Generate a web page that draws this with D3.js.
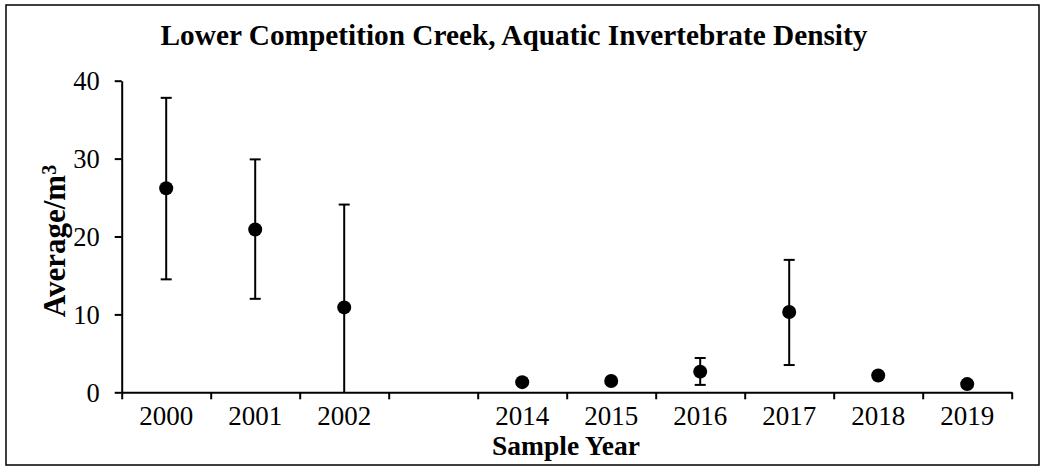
<!DOCTYPE html>
<html><head><meta charset="utf-8">
<script src="https://cdn.jsdelivr.net/npm/d3@7"></script>
<style>
html,body{margin:0;padding:0;background:#fff;}
svg text{font-family:"Liberation Serif","Times New Roman",serif;fill:#000;}
</style></head>
<body><svg id="chart" width="1046" height="468"></svg>
<script>
const categories = ["2000","2001","2002","","2014","2015","2016","2017","2018","2019"];
const means = [26.2, 20.9, 10.9, null, 1.3, 1.45, 2.65, 10.3, 2.15, 1.05];
const upper = [37.8, 29.9, 24.1, null, null, null, 4.4, 17.0, null, null];
const lower = [14.5, 12.0, 0, null, null, null, 0.95, 3.5, null, null];
const yTicks = [0, 10, 20, 30, 40];
const titleText = "Lower Competition Creek, Aquatic Invertebrate Density";
const xTitle = "Sample Year";

const svg = d3.select("#chart");
const L = 121.7, R = 1011.7, T = 80.7, B = 392.3;

svg.append("rect").attr("x",6).attr("y",5).attr("width",1033).attr("height",460)
  .attr("fill","#fff").attr("stroke","#000").attr("stroke-width",1.5);

const x = d3.scaleBand().domain(d3.range(categories.length)).range([L,R]).padding(0);
const xb = d3.scaleLinear().domain([0,categories.length]).range([L,R]);
const y = d3.scaleLinear().domain([0,40]).range([B,T]);

// y axis
const ya = svg.append("g").attr("transform",`translate(${L},0)`)
  .call(d3.axisLeft(y).tickValues(yTicks).tickSizeInner(7).tickSizeOuter(0).tickPadding(15));
ya.selectAll("path,line").attr("stroke","#000").attr("stroke-width",2);
ya.selectAll("text").style("font-size","26.5px").attr("dy","0.34em");

// x axis boundary ticks
const xa = svg.append("g").attr("transform",`translate(0,${B})`)
  .call(d3.axisBottom(xb).tickValues(d3.range(categories.length+1)).tickSizeInner(7).tickSizeOuter(0).tickFormat(""));
xa.selectAll("path,line").attr("stroke","#000").attr("stroke-width",2);

// x labels
const xl = svg.append("g").attr("transform",`translate(0,${B})`)
  .call(d3.axisBottom(x).tickSize(0).tickPadding(14).tickFormat(i=>categories[i]));
xl.select(".domain").remove();
xl.selectAll("text").style("font-size","27px");

// error bars
const eb = svg.append("g");
categories.forEach((c,i)=>{
  if(upper[i]==null || lower[i]==null) return;
  const cx = x(i)+x.bandwidth()/2;
  eb.append("line").attr("x1",cx).attr("x2",cx).attr("y1",y(upper[i])).attr("y2",y(lower[i]))
    .attr("stroke","#000").attr("stroke-width",2);
  eb.append("line").attr("x1",cx-5.5).attr("x2",cx+5.5).attr("y1",y(upper[i])).attr("y2",y(upper[i]))
    .attr("stroke","#000").attr("stroke-width",2);
  if(lower[i]>0) eb.append("line").attr("x1",cx-5.5).attr("x2",cx+5.5).attr("y1",y(lower[i])).attr("y2",y(lower[i]))
    .attr("stroke","#000").attr("stroke-width",2);
});

// points
svg.append("g").selectAll("circle").data(means.map((v,i)=>({v,i})).filter(d=>d.v!=null))
  .join("circle").attr("cx",d=>x(d.i)+x.bandwidth()/2).attr("cy",d=>y(d.v)).attr("r",7).attr("fill","#000");

// titles
svg.append("text").attr("x",514).attr("y",45).attr("text-anchor","middle")
  .style("font-size","29.3px").style("font-weight","bold").text(titleText);
svg.append("text").attr("x",566).attr("y",455).attr("text-anchor","middle")
  .style("font-size","27.5px").style("font-weight","bold").text(xTitle);
const yl = svg.append("text").attr("transform","translate(65,241) rotate(-90)").attr("text-anchor","middle")
  .style("font-size","31px").style("font-weight","bold");
yl.append("tspan").text("Average/m");
yl.append("tspan").attr("dy","-0.45em").style("font-size","20px").text("3");
</script></body></html>
